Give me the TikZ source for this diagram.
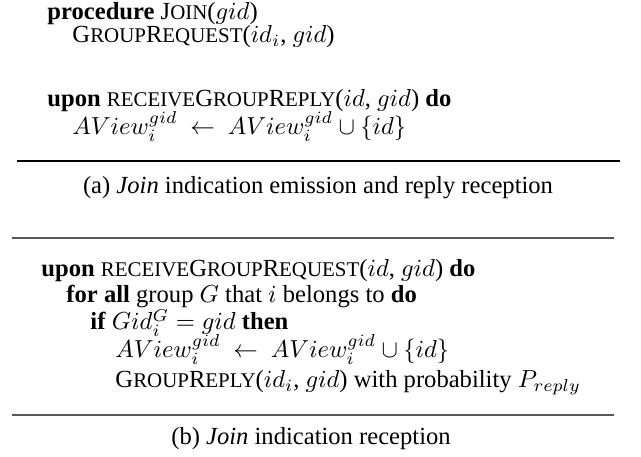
\documentclass[tikz,border=0pt]{standalone}
\usepackage{fontspec}
\setmainfont{Liberation Serif}
\newcommand\smc[1]{{\fontsize{8.5pt}{9pt}\selectfont #1}}
\begin{document}
\begin{tikzpicture}[x=0.4065pt,y=-0.4065pt,
  txt/.style={anchor=base west,inner sep=0pt,font=\fontsize{10pt}{12pt}\selectfont},
  mtxt/.style={anchor=base west,inner sep=0pt,font=\fontsize{9.8pt}{12pt}\selectfont},
  captxt/.style={anchor=base,inner sep=0pt,font=\fontsize{10pt}{12pt}\selectfont},
  blackrule/.style={draw=black,line width=0.45pt},
  grayrule/.style={draw=black!65,line width=0.8pt}]
\useasboundingbox (0,0) rectangle (641,457);
% (a)
\node[txt] (a1) at (47,20) {\textbf{procedure} J\smc{OIN}($gid$)};
\node[txt] (a2) at (72,43) {G\smc{ROUP}R\smc{EQUEST}($id_i$, $gid$)};
\node[txt] (a3) at (47,107) {\textbf{upon} \smc{RECEIVE}G\smc{ROUP}R\smc{EPLY}($id$, $gid$) \textbf{do}};
\node[mtxt] (a4) at (72,135) {$AView_i^{gid}\ \leftarrow\ AView_i^{gid}\cup\{id\}$};
\coordinate (r1a) at (17,161);
\coordinate (r1b) at (620,161);
\draw[blackrule] (r1a) -- (r1b);
\node[captxt] (ca) at (318,194) {(a) \textit{Join} indication emission and reply reception};
% (b)
\coordinate (r2a) at (12,238);
\coordinate (r2b) at (614,238);
\draw[grayrule] (r2a) -- (r2b);
\node[txt] (b1) at (41,277) {\textbf{upon} \smc{RECEIVE}G\smc{ROUP}R\smc{EQUEST}($id$, $gid$) \textbf{do}};
\node[txt] (b2) at (66,303) {\textbf{for all} group $G$ that $i$ belongs to \textbf{do}};
\node[txt] (b3) at (90,330) {\textbf{if} $Gid_i^G=gid$ \textbf{then}};
\node[mtxt] (b4) at (115,358) {$AView_i^{gid}\ \leftarrow\ AView_i^{gid}\cup\{id\}$};
\node[txt] (b5) at (115,388) {G\smc{ROUP}R\smc{EPLY}($id_i$, $gid$) with probability $P_{reply}$};
\coordinate (r3a) at (12,415);
\coordinate (r3b) at (614,415);
\draw[grayrule] (r3a) -- (r3b);
\node[captxt] (cb) at (311,445) {(b) \textit{Join} indication reception};
\end{tikzpicture}
\end{document}
